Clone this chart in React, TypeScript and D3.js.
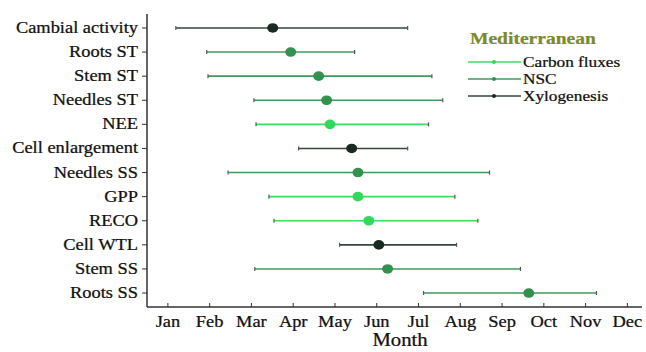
import React from "react";
import * as d3 from "d3";

// Phenological timing of processes (month units, Jan = 1)
const processes = [
  "Cambial activity", "Roots ST", "Stem ST", "Needles ST", "NEE",
  "Cell enlargement", "Needles SS", "GPP", "RECO", "Cell WTL", "Stem SS", "Roots SS",
];
const groups = ["Xylogenesis", "NSC", "NSC", "NSC", "Carbon fluxes",
  "Xylogenesis", "NSC", "Carbon fluxes", "Carbon fluxes", "Xylogenesis", "NSC", "NSC"];
const startMonth = [1.19, 1.93, 1.96, 3.06, 3.11, 4.13, 2.44, 3.42, 3.54, 5.11, 3.08, 7.12];
const peakMonth = [3.51, 3.94, 4.61, 4.80, 4.88, 5.40, 5.55, 5.55, 5.81, 6.05, 6.26, 9.64];
const endMonth = [6.74, 5.47, 7.32, 7.58, 7.24, 6.74, 8.70, 7.87, 8.42, 7.91, 9.44, 11.26];
const monthLabels = ["Jan", "Feb", "Mar", "Apr", "May", "Jun", "Jul", "Aug", "Sep", "Oct", "Nov", "Dec"];
const legendGroups = ["Carbon fluxes", "NSC", "Xylogenesis"];

const lineColor: Record<string, string> = {
  "Carbon fluxes": "#3fdc62",
  NSC: "#3f9a5e",
  Xylogenesis: "#34483c",
};
const dotColor: Record<string, string> = {
  "Carbon fluxes": "#33d85a",
  NSC: "#33914f",
  Xylogenesis: "#1b2a20",
};

const W = 646;
const H = 352;
const FONT = "'Liberation Serif', 'Times New Roman', serif";
const SX = 1.15;

function T({ x, y, anchor = "start", size = 16, weight = "normal", fill = "#111", children }: any) {
  return (
    <text
      transform={`translate(${x},${y}) scale(${SX},1)`}
      textAnchor={anchor}
      fontSize={size}
      fontWeight={weight}
      fill={fill}
      stroke={fill}
      strokeWidth={0.25}
      fontFamily={FONT}
    >
      {children}
    </text>
  );
}

export default function App() {
  const x = d3.scaleLinear().domain([0.5, 12.35]).range([147, 642]);
  const y = d3.scalePoint<string>().domain(processes).range([14, 307]).padding(0.58);
  const x0 = 147;
  const yBottom = 307;
  const ticks = d3.range(1, 13);

  return (
    <svg width={W} height={H} style={{ position: "absolute", left: 0, top: 0, background: "#fff" }}>
      {/* axes */}
      <line x1={x0} x2={x0} y1={14} y2={yBottom} stroke="#333" strokeWidth={1.5} />
      <line x1={x0} x2={642} y1={yBottom} y2={yBottom} stroke="#333" strokeWidth={1.5} />
      {ticks.map((m) => (
        <g key={m}>
          <line x1={x(m)} x2={x(m)} y1={yBottom} y2={yBottom - 4} stroke="#333" strokeWidth={1} />
          <T x={x(m)} y={327} anchor="middle" size={16}>{monthLabels[m - 1]}</T>
        </g>
      ))}
      <T x={400} y={346} anchor="middle" size={18}>Month</T>
      {processes.map((p) => (
        <g key={p}>
          <line x1={x0 - 5} x2={x0} y1={y(p)!} y2={y(p)!} stroke="#333" strokeWidth={1} />
          <T x={138} y={y(p)! + 5} anchor="end" size={16}>{p}</T>
        </g>
      ))}

      {/* ranges and peaks */}
      {processes.map((p, i) => {
        const g = groups[i];
        const yy = y(p)!;
        return (
          <g key={p}>
            <line x1={x(startMonth[i])} x2={x(endMonth[i])} y1={yy} y2={yy} stroke={lineColor[g]} strokeWidth={1.6} />
            <line x1={x(startMonth[i])} x2={x(startMonth[i])} y1={yy - 2} y2={yy + 2} stroke="#555" strokeWidth={1.2} />
            <line x1={x(endMonth[i])} x2={x(endMonth[i])} y1={yy - 2} y2={yy + 2} stroke="#555" strokeWidth={1.2} />
            <ellipse cx={x(peakMonth[i])} cy={yy} rx={5.5} ry={4.8} fill={dotColor[g]} />
          </g>
        );
      })}

      {/* legend */}
      <T x={470} y={44} size={17} weight="bold" fill="#7b8a2c">Mediterranean</T>
      {legendGroups.map((g, i) => {
        const ly = 62 + i * 17;
        return (
          <g key={g}>
            <line x1={468} x2={521} y1={ly} y2={ly} stroke={lineColor[g]} strokeWidth={1.4} />
            <circle cx={494} cy={ly} r={2} fill={dotColor[g]} />
            <T x={523} y={ly + 4.5} size={15}>{g}</T>
          </g>
        );
      })}
    </svg>
  );
}
